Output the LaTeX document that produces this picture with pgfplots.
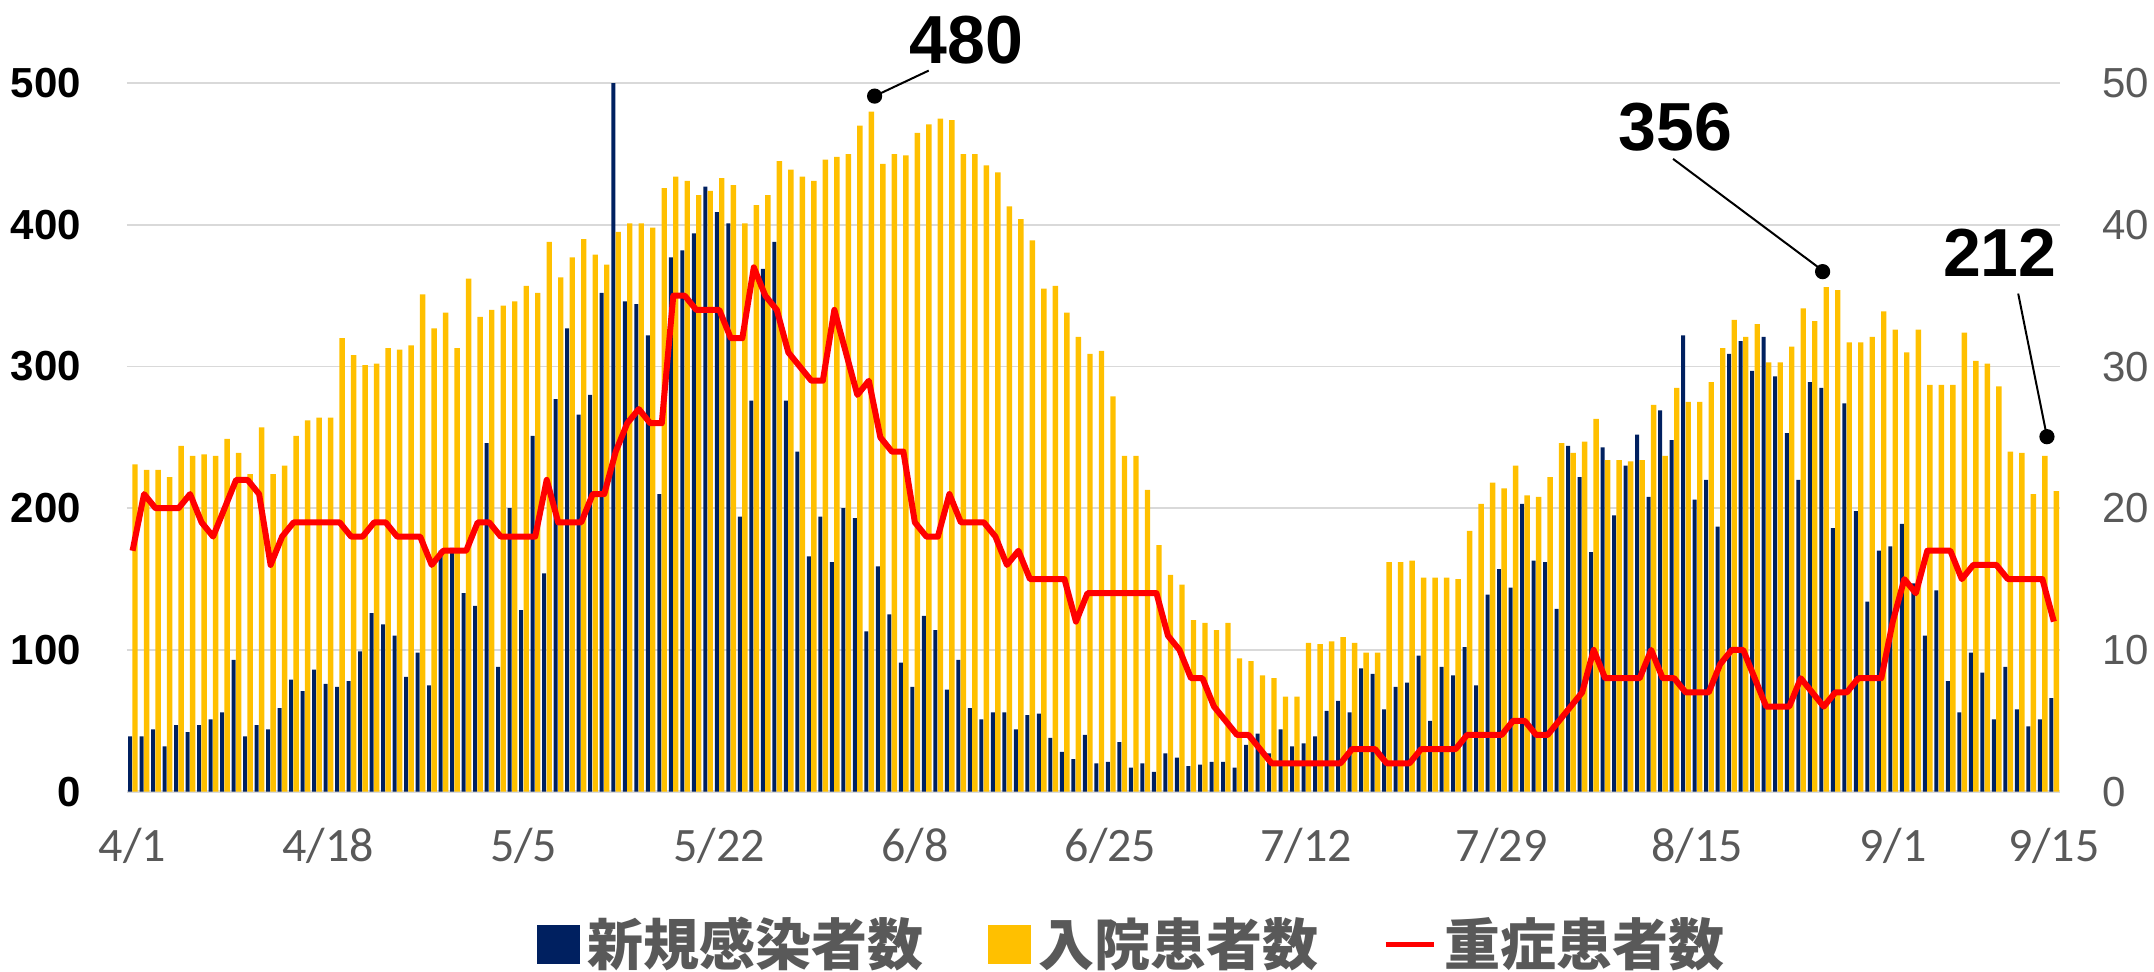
\documentclass[border=0pt]{standalone}
\usepackage{fontspec}
\setmainfont{Liberation Sans}
\newfontfamily\jpfont{Noto Sans CJK JP}
\newfontfamily\calfont{Carlito}
\usepackage{pgfplots}
\pgfplotsset{compat=1.18}
\usepackage{pgfplotstable}
\definecolor{navyc}{HTML}{002060}
\definecolor{goldc}{HTML}{FFC000}
\definecolor{gridc}{HTML}{D9D9D9}
\definecolor{txtg}{HTML}{595959}
\pgfplotstableread{
d n h s
0 39 231 17
1 39 227 21
2 44 227 20
3 32 222 20
4 47 244 20
5 42 237 21
6 47 238 19
7 51 237 18
8 56 249 20
9 93 239 22
10 39 224 22
11 47 257 21
12 44 224 16
13 59 230 18
14 79 251 19
15 71 262 19
16 86 264 19
17 76 264 19
18 74 320 19
19 78 308 18
20 99 301 18
21 126 302 19
22 118 313 19
23 110 312 18
24 81 315 18
25 98 351 18
26 75 327 16
27 170 338 17
28 172 313 17
29 140 362 17
30 131 335 19
31 246 340 19
32 88 343 18
33 200 346 18
34 128 357 18
35 251 352 18
36 154 388 22
37 277 363 19
38 327 377 19
39 266 390 19
40 280 379 21
41 352 372 21
42 500 395 24
43 346 401 26
44 344 401 27
45 322 398 26
46 210 426 26
47 377 434 35
48 382 431 35
49 394 421 34
50 427 424 34
51 409 433 34
52 401 428 32
53 194 401 32
54 276 414 37
55 369 421 35
56 388 445 34
57 276 439 31
58 240 434 30
59 166 431 29
60 194 446 29
61 162 448 34
62 200 450 31
63 193 470 28
64 113 480 29
65 159 443 25
66 125 450 24
67 91 449 24
68 74 465 19
69 124 471 18
70 114 475 18
71 72 474 21
72 93 450 19
73 59 450 19
74 51 442 19
75 56 437 18
76 56 413 16
77 44 404 17
78 54 389 15
79 55 355 15
80 38 357 15
81 28 338 15
82 23 321 12
83 40 309 14
84 20 311 14
85 21 279 14
86 35 237 14
87 17 237 14
88 20 213 14
89 14 174 14
90 27 153 11
91 24 146 10
92 18 121 8
93 19 119 8
94 21 114 6
95 21 119 5
96 17 94 4
97 33 92 4
98 41 82 3
99 27 80 2
100 44 67 2
101 32 67 2
102 34 105 2
103 39 104 2
104 57 106 2
105 64 109 2
106 56 105 3
107 87 98 3
108 83 98 3
109 58 162 2
110 74 162 2
111 77 163 2
112 96 151 3
113 50 151 3
114 88 151 3
115 82 150 3
116 102 184 4
117 75 203 4
118 139 218 4
119 157 214 4
120 144 230 5
121 203 209 5
122 163 208 4
123 162 222 4
124 129 246 5
125 244 239 6
126 222 247 7
127 169 263 10
128 243 234 8
129 195 234 8
130 230 233 8
131 252 234 8
132 208 273 10
133 269 237 8
134 248 285 8
135 322 275 7
136 206 275 7
137 220 289 7
138 187 313 9
139 309 333 10
140 318 321 10
141 297 330 8
142 321 303 6
143 293 303 6
144 253 314 6
145 220 341 8
146 289 332 7
147 285 356 6
148 186 354 7
149 274 317 7
150 198 317 8
151 134 321 8
152 170 339 8
153 173 326 12
154 189 310 15
155 147 326 14
156 110 287 17
157 142 287 17
158 78 287 17
159 56 324 15
160 98 304 16
161 84 302 16
162 51 286 16
163 88 240 15
164 58 239 15
165 46 210 15
166 51 237 15
167 66 212 12
}\data
\begin{document}
\begin{tikzpicture}
\begin{axis}[name=A, scale only axis, width=483.2pt, height=177.1pt,
  xmin=-0.5, xmax=167.5, ymin=0, ymax=500, clip=false,
  axis x line*=bottom, axis y line*=left,
  x axis line style={draw=gridc, line width=0.9pt, -},
  y axis line style={draw=none},
  ytick={0,100,...,500},
  xtick={0,17,34,51,68,85,102,119,136,153,167},
  xticklabels={4/1,4/18,5/5,5/22,6/8,6/25,7/12,7/29,8/15,9/1,9/15},
  major tick length=0pt, tick style={draw=none},
  ymajorgrids, grid style={draw=gridc, line width=0.45pt},
  /pgf/number format/assume math mode=true,
  yticklabel style={font=\fontsize{10.5}{12}\selectfont\bfseries, text=black, inner sep=0pt, xshift=-11.3pt},
  xticklabel style={font=\fontsize{12}{14}\calfont, text=txtg, inner sep=0pt, yshift=-9pt},
]
\addplot[ybar, bar width=1pt, bar shift=-0.625pt, fill=navyc, draw=none] table[x=d,y=n]{\data};
\addplot[ybar, bar width=1.35pt, bar shift=0.625pt, fill=goldc, draw=none] table[x=d,y=h]{\data};
\addplot[black, line width=0.5pt] coordinates {(64.5,490.9) (69.2,508.9)};
\addplot[black, line width=0.5pt] coordinates {(146.7,369) (133.9,446.6)};
\addplot[black, line width=0.5pt] coordinates {(166.4,250.5) (163.9,351.5)};
\addplot[only marks, mark=*, mark size=1.7pt, black] coordinates {(64.5,490.9) (146.9,367) (166.4,250.5)};
\node[font=\fontsize{17}{20}\selectfont\bfseries] at (axis cs:72.5,530.6) {480};
\node[font=\fontsize{17}{20}\selectfont\bfseries] at (axis cs:134.1,469) {356};
\node[font=\fontsize{17}{20}\selectfont\bfseries] at (axis cs:162.3,380) {212};
\end{axis}
\begin{axis}[scale only axis, width=483.2pt, height=177.1pt,
  xmin=-0.5, xmax=167.5, ymin=0, ymax=50,
  axis x line=none, axis y line*=right, y axis line style={draw=none},
  ytick={0,10,...,50}, tick style={draw=none}, major tick length=0pt,
  /pgf/number format/assume math mode=true,
  yticklabel style={font=\fontsize{10.5}{12}\selectfont, text=txtg, inner sep=0pt, xshift=10.5pt},
  legend style={at={(0.5215,-0.216)}, anchor=center, draw=none, fill=none,
    font=\fontsize{14}{16}\jpfont\bfseries, text=txtg,
    /tikz/every even column/.append style={column sep=14pt},
    inner sep=0pt, nodes={inner sep=2pt}},
  legend columns=-1, legend cell align=left,
]
\addlegendimage{legend image code/.code={\fill[navyc] (0pt,-4.6pt) rectangle (10.3pt,4.6pt);}}
\addlegendentry{新規感染者数}
\addlegendimage{legend image code/.code={\fill[goldc] (0pt,-4.6pt) rectangle (10.3pt,4.6pt);}}
\addlegendentry{入院患者数}
\addplot[red, line width=1.5pt, line join=round, legend image code/.code={\draw[red, line width=1.4pt] (0pt,0pt) -- (12pt,0pt);}] table[x=d,y=s]{\data};
\addlegendentry{重症患者数}
\end{axis}
\pgfresetboundingbox
\path[use as bounding box] ([shift={(-31.7pt,-45.1pt)}]A.south west) rectangle ([shift={(23.6pt,20.8pt)}]A.north east);
\end{tikzpicture}
\end{document}
